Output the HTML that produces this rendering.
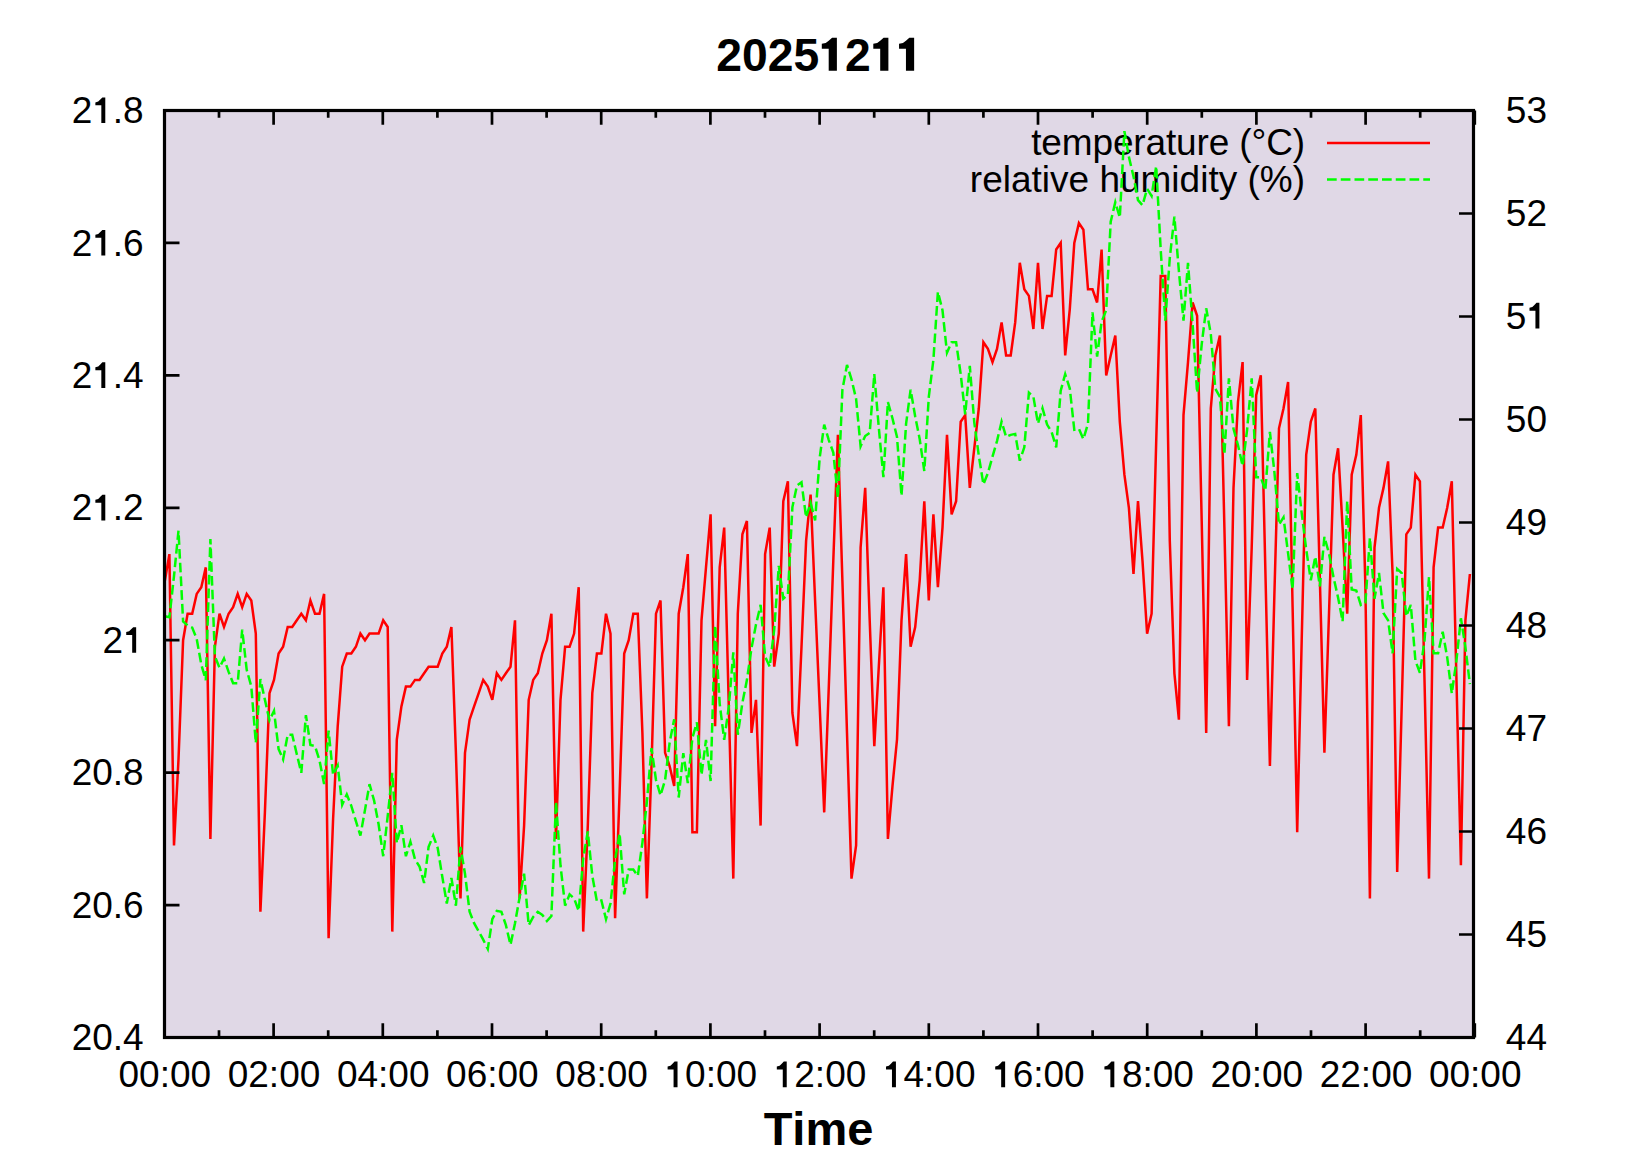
<!DOCTYPE html>
<html><head><meta charset="utf-8"><style>
html,body{margin:0;padding:0;background:#fff;}
svg{display:block;}
text{font-family:"Liberation Sans",sans-serif;font-size:37.0px;fill:#000;font-kerning:none;}
</style></head><body>
<svg width="1650" height="1155" viewBox="0 0 1650 1155">
<rect x="164.5" y="110.5" width="1309.0" height="927.0" fill="#e0d8e6"/>
<text x="1305" y="155" text-anchor="end" letter-spacing="-0.13">temperature (°C)</text>
<text x="1305" y="192" text-anchor="end">relative humidity (%)</text>
<path d="M1327 143H1430" stroke="#ff0000" stroke-width="2.5" fill="none"/>
<path d="M1327 179.6H1430" stroke="#00ff00" stroke-width="2.5" fill="none" stroke-dasharray="9.7 4.05"/>
<polyline points="164.9,580.6 169.4,554.1 174.0,845.5 178.5,759.4 183.1,640.2 187.6,613.7 192.2,613.7 196.7,593.9 201.3,587.2 205.8,567.4 210.4,838.9 214.9,646.8 219.5,613.7 224.0,627.0 228.6,613.7 233.1,607.1 237.7,593.9 242.2,607.1 246.7,593.9 251.3,600.5 255.8,633.6 260.4,911.7 264.9,812.4 269.5,693.2 274.0,679.9 278.6,653.5 283.1,646.8 287.7,627.0 292.2,627.0 296.8,620.3 301.3,613.7 305.9,620.3 310.4,600.5 315.0,613.7 319.5,613.7 324.1,593.9 328.6,938.2 333.1,819.0 337.7,726.3 342.2,666.7 346.8,653.5 351.3,653.5 355.9,646.8 360.4,633.6 365.0,640.2 369.5,633.6 374.1,633.6 378.6,633.6 383.2,620.3 387.7,627.0 392.3,931.6 396.8,739.5 401.4,706.4 405.9,686.6 410.4,686.6 415.0,679.9 419.5,679.9 424.1,673.3 428.6,666.7 433.2,666.7 437.7,666.7 442.3,653.5 446.8,646.8 451.4,627.0 455.9,752.8 460.5,898.4 465.0,752.8 469.6,719.7 474.1,706.4 478.7,693.2 483.2,679.9 487.8,686.6 492.3,699.8 496.8,673.3 501.4,679.9 505.9,673.3 510.5,666.7 515.0,620.3 519.6,898.4 524.1,825.6 528.7,699.8 533.2,679.9 537.8,673.3 542.3,653.5 546.9,640.2 551.4,613.7 556.0,838.9 560.5,699.8 565.1,646.8 569.6,646.8 574.1,633.6 578.7,587.2 583.2,931.6 587.8,825.6 592.3,693.2 596.9,653.5 601.4,653.5 606.0,613.7 610.5,633.6 615.1,918.3 619.6,792.5 624.2,653.5 628.7,640.2 633.3,613.7 637.8,613.7 642.4,732.9 646.9,898.4 651.5,766.0 656.0,613.7 660.5,600.5 665.1,752.8 669.6,766.0 674.2,785.9 678.7,613.7 683.3,587.2 687.8,554.1 692.4,832.2 696.9,832.2 701.5,620.3 706.0,567.4 710.6,514.4 715.1,726.3 719.7,567.4 724.2,527.6 728.8,706.4 733.3,878.6 737.8,613.7 742.4,534.3 746.9,521.0 751.5,732.9 756.0,699.8 760.6,825.6 765.1,554.1 769.7,527.6 774.2,666.7 778.8,633.6 783.3,501.2 787.9,481.3 792.4,713.0 797.0,746.2 801.5,646.8 806.1,540.9 810.6,494.5 815.1,600.5 819.7,706.4 824.2,812.4 828.8,686.6 833.3,560.8 837.9,434.9 842.4,580.6 847.0,732.9 851.5,878.6 856.1,845.5 860.6,547.5 865.2,487.9 869.7,620.3 874.3,746.2 878.8,666.7 883.4,587.2 887.9,838.9 892.5,785.9 897.0,739.5 901.5,620.3 906.1,554.1 910.6,646.8 915.2,627.0 919.7,580.6 924.3,501.2 928.8,600.5 933.4,514.4 937.9,587.2 942.5,527.6 947.0,434.9 951.6,514.4 956.1,501.2 960.7,421.7 965.2,415.1 969.8,487.9 974.3,448.2 978.8,408.5 983.4,342.2 987.9,348.9 992.5,362.1 997.0,348.9 1001.6,322.4 1006.1,355.5 1010.7,355.5 1015.2,322.4 1019.8,262.8 1024.3,289.3 1028.9,295.9 1033.4,329.0 1038.0,262.8 1042.5,329.0 1047.1,295.9 1051.6,295.9 1056.2,249.5 1060.7,242.9 1065.2,355.5 1069.8,309.1 1074.3,242.9 1078.9,223.1 1083.4,229.7 1088.0,289.3 1092.5,289.3 1097.1,302.5 1101.6,249.5 1106.2,375.4 1110.7,355.5 1115.3,335.6 1119.8,421.7 1124.4,474.7 1128.9,507.8 1133.5,574.0 1138.0,501.2 1142.5,560.8 1147.1,633.6 1151.6,613.7 1156.2,441.6 1160.7,276.0 1165.3,276.0 1169.8,540.9 1174.4,673.3 1178.9,719.7 1183.5,415.1 1188.0,362.1 1192.6,302.5 1197.1,315.8 1201.7,521.0 1206.2,732.9 1210.8,408.5 1215.3,355.5 1219.9,335.6 1224.4,527.6 1228.9,726.3 1233.5,487.9 1238.0,401.8 1242.6,362.1 1247.1,679.9 1251.7,547.5 1256.2,395.2 1260.8,375.4 1265.3,567.4 1269.9,766.0 1274.4,593.9 1279.0,428.3 1283.5,408.5 1288.1,382.0 1292.6,607.1 1297.2,832.2 1301.7,640.2 1306.2,454.8 1310.8,421.7 1315.3,408.5 1319.9,580.6 1324.4,752.8 1329.0,613.7 1333.5,474.7 1338.1,448.2 1342.6,527.6 1347.2,613.7 1351.7,474.7 1356.3,454.8 1360.8,415.1 1365.4,587.2 1369.9,898.4 1374.5,547.5 1379.0,507.8 1383.5,487.9 1388.1,461.4 1392.6,574.0 1397.2,872.0 1401.7,706.4 1406.3,534.3 1410.8,527.6 1415.4,474.7 1419.9,481.3 1424.5,679.9 1429.0,878.6 1433.6,567.4 1438.1,527.6 1442.7,527.6 1447.2,507.8 1451.8,481.3 1456.3,673.3 1460.9,865.3 1465.4,620.3 1469.9,574.0" fill="none" stroke="#ff0000" stroke-width="2.5" stroke-linejoin="miter" stroke-miterlimit="4"/>
<polyline points="164.9,616.2 169.4,617.3 174.0,576.1 178.5,530.7 183.1,621.4 187.6,625.5 192.2,627.6 196.7,638.9 201.3,664.6 205.8,680.1 210.4,539.0 214.9,656.4 219.5,667.7 224.0,658.5 228.6,671.9 233.1,683.2 237.7,683.2 242.2,629.6 246.7,669.8 251.3,686.3 255.8,742.9 260.4,679.1 264.9,699.7 269.5,720.3 274.0,711.0 278.6,749.1 283.1,759.4 287.7,734.7 292.2,734.7 296.8,754.2 301.3,772.8 305.9,715.1 310.4,745.0 315.0,746.0 319.5,760.4 324.1,784.1 328.6,730.6 333.1,774.9 337.7,765.6 342.2,804.7 346.8,794.4 351.3,805.8 355.9,821.2 360.4,835.6 365.0,809.9 369.5,784.1 374.1,800.6 378.6,824.3 383.2,856.2 387.7,816.1 392.3,772.8 396.8,842.8 401.4,825.3 405.9,856.2 410.4,841.8 415.0,859.3 419.5,866.5 424.1,883.0 428.6,846.9 433.2,835.6 437.7,848.0 442.3,876.8 446.8,903.6 451.4,877.9 455.9,905.7 460.5,846.9 465.0,873.7 469.6,911.8 474.1,923.2 478.7,931.4 483.2,939.6 487.8,948.9 492.3,919.1 496.8,910.8 501.4,911.8 505.9,925.2 510.5,944.8 515.0,923.2 519.6,897.4 524.1,873.7 528.7,925.2 533.2,917.0 537.8,911.8 542.3,914.9 546.9,921.1 551.4,916.0 556.0,801.6 560.5,865.5 565.1,905.7 569.6,894.3 574.1,898.4 578.7,910.8 583.2,858.3 587.8,831.5 592.3,875.8 596.9,901.5 601.4,900.5 606.0,919.1 610.5,903.6 615.1,859.3 619.6,833.6 624.2,894.3 628.7,869.6 633.3,869.6 637.8,875.8 642.4,842.8 646.9,801.6 651.5,748.1 656.0,780.0 660.5,795.4 665.1,780.0 669.6,742.9 674.2,719.2 678.7,797.5 683.3,753.2 687.8,783.1 692.4,737.8 696.9,722.3 701.5,774.9 706.0,739.8 710.6,781.0 715.1,625.5 719.7,703.8 724.2,739.8 728.8,706.9 733.3,652.3 737.8,734.7 742.4,702.8 746.9,680.1 751.5,648.2 756.0,624.5 760.6,604.9 765.1,656.4 769.7,666.7 774.2,629.6 778.8,565.8 783.3,598.7 787.9,594.6 792.4,507.1 797.0,485.4 801.5,482.3 806.1,517.4 810.6,502.9 815.1,520.4 819.7,457.6 824.2,424.6 828.8,440.1 833.3,452.5 837.9,497.8 842.4,389.6 847.0,364.9 851.5,379.3 856.1,398.9 860.6,446.3 865.2,436.0 869.7,432.9 874.3,374.2 878.8,427.7 883.4,477.2 887.9,402.0 892.5,418.5 897.0,437.0 901.5,495.7 906.1,423.6 910.6,389.6 915.2,416.4 919.7,439.1 924.3,471.0 928.8,396.8 933.4,359.8 937.9,291.8 942.5,310.3 947.0,352.6 951.6,342.2 956.1,342.2 960.7,374.2 965.2,414.4 969.8,365.9 974.3,422.6 978.8,455.6 983.4,484.4 987.9,473.1 992.5,456.6 997.0,441.1 1001.6,421.6 1006.1,437.0 1010.7,434.9 1015.2,433.9 1019.8,460.7 1024.3,447.3 1028.9,392.7 1033.4,396.8 1038.0,423.6 1042.5,408.2 1047.1,424.6 1051.6,431.9 1056.2,447.3 1060.7,390.7 1065.2,374.2 1069.8,388.6 1074.3,429.8 1078.9,428.8 1083.4,439.1 1088.0,423.6 1092.5,312.4 1097.1,356.7 1101.6,321.6 1106.2,310.3 1110.7,221.7 1115.3,202.2 1119.8,217.6 1124.4,131.1 1128.9,156.9 1133.5,176.4 1138.0,200.1 1142.5,205.3 1147.1,188.8 1151.6,196.0 1156.2,166.1 1160.7,249.6 1165.3,320.6 1169.8,257.8 1174.4,216.6 1178.9,271.2 1183.5,320.6 1188.0,262.9 1192.6,323.7 1197.1,392.7 1201.7,344.3 1206.2,308.3 1210.8,334.0 1215.3,388.6 1219.9,396.8 1224.4,454.5 1228.9,378.3 1233.5,428.8 1238.0,445.2 1242.6,465.9 1247.1,429.8 1251.7,378.3 1256.2,477.2 1260.8,477.2 1265.3,490.6 1269.9,431.9 1274.4,472.0 1279.0,524.6 1283.5,517.4 1288.1,553.4 1292.6,589.4 1297.2,473.1 1301.7,513.2 1306.2,549.3 1310.8,580.2 1315.3,556.5 1319.9,586.4 1324.4,536.9 1329.0,553.4 1333.5,577.1 1338.1,597.7 1342.6,621.4 1347.2,500.9 1351.7,589.4 1356.3,590.5 1360.8,604.9 1365.4,602.8 1369.9,537.9 1374.5,598.7 1379.0,573.0 1383.5,613.1 1388.1,620.4 1392.6,653.3 1397.2,568.9 1401.7,573.0 1406.3,616.2 1410.8,604.9 1415.4,660.5 1419.9,672.9 1424.5,640.9 1429.0,577.1 1433.6,653.3 1438.1,653.3 1442.7,631.7 1447.2,657.4 1451.8,693.5 1456.3,661.6 1460.9,618.3 1465.4,647.1 1469.9,684.2" fill="none" stroke="#00ff00" stroke-width="2.5" stroke-linejoin="miter" stroke-miterlimit="4" stroke-dasharray="9.7 4.05"/>
<path d="M164.40 1037.5v-14.2M164.40 110.5v14.2M219.00 1037.5v-7.2M219.00 110.5v7.2M273.60 1037.5v-14.2M273.60 110.5v14.2M328.20 1037.5v-7.2M328.20 110.5v7.2M382.80 1037.5v-14.2M382.80 110.5v14.2M437.40 1037.5v-7.2M437.40 110.5v7.2M492.00 1037.5v-14.2M492.00 110.5v14.2M546.60 1037.5v-7.2M546.60 110.5v7.2M601.20 1037.5v-14.2M601.20 110.5v14.2M655.80 1037.5v-7.2M655.80 110.5v7.2M710.40 1037.5v-14.2M710.40 110.5v14.2M765.00 1037.5v-7.2M765.00 110.5v7.2M819.60 1037.5v-14.2M819.60 110.5v14.2M874.20 1037.5v-7.2M874.20 110.5v7.2M928.80 1037.5v-14.2M928.80 110.5v14.2M983.40 1037.5v-7.2M983.40 110.5v7.2M1038.00 1037.5v-14.2M1038.00 110.5v14.2M1092.60 1037.5v-7.2M1092.60 110.5v7.2M1147.20 1037.5v-14.2M1147.20 110.5v14.2M1201.80 1037.5v-7.2M1201.80 110.5v7.2M1256.40 1037.5v-14.2M1256.40 110.5v14.2M1311.00 1037.5v-7.2M1311.00 110.5v7.2M1365.60 1037.5v-14.2M1365.60 110.5v14.2M1420.20 1037.5v-7.2M1420.20 110.5v7.2M1474.80 1037.5v-14.2M1474.80 110.5v14.2M164.5 1037.50h15M164.5 905.07h15M164.5 772.64h15M164.5 640.21h15M164.5 507.79h15M164.5 375.36h15M164.5 242.93h15M164.5 110.50h15M1473.5 1037.50h-14.5M1473.5 934.50h-14.5M1473.5 831.50h-14.5M1473.5 728.50h-14.5M1473.5 625.50h-14.5M1473.5 522.50h-14.5M1473.5 419.50h-14.5M1473.5 316.50h-14.5M1473.5 213.50h-14.5M1473.5 110.50h-14.5" stroke="#000" stroke-width="2.7" fill="none" stroke-linecap="butt"/>
<rect x="164.5" y="110.5" width="1309.0" height="927.0" fill="none" stroke="#000" stroke-width="3.2"/>
<text x="71.69 92.26 112.84 123.12" y="1050.10" style="font-size:37.0px">20.4</text><text x="71.69 92.26 112.84 123.12" y="917.67" style="font-size:37.0px">20.6</text><text x="71.69 92.26 112.84 123.12" y="785.24" style="font-size:37.0px">20.8</text><text x="102.54" y="652.81" style="font-size:37.0px">2</text><path d="M132.19 652.81V635.05H126.23L126.23 632.09L129.08 631.32L131.15 629.25L133.22 627.17H136.15V652.81Z"/><text x="71.69 112.84 123.12" y="520.39" style="font-size:37.0px">2.2</text><path d="M101.33 520.39V502.63H95.37L95.37 499.67L98.22 498.89L100.29 496.82L102.37 494.74H105.29V520.39Z"/><text x="71.69 112.84 123.12" y="387.96" style="font-size:37.0px">2.4</text><path d="M101.33 387.96V370.20H95.37L95.37 367.24L98.22 366.46L100.29 364.39L102.37 362.32H105.29V387.96Z"/><text x="71.69 112.84 123.12" y="255.53" style="font-size:37.0px">2.6</text><path d="M101.33 255.53V237.77H95.37L95.37 234.81L98.22 234.03L100.29 231.96L102.37 229.89H105.29V255.53Z"/><text x="71.69 112.84 123.12" y="123.10" style="font-size:37.0px">2.8</text><path d="M101.33 123.10V105.34H95.37L95.37 102.38L98.22 101.60L100.29 99.53L102.37 97.46H105.29V123.10Z"/><text x="1505.80 1526.38" y="1049.50" style="font-size:37.0px">44</text><text x="1505.80 1526.38" y="946.50" style="font-size:37.0px">45</text><text x="1505.80 1526.38" y="843.50" style="font-size:37.0px">46</text><text x="1505.80 1526.38" y="740.50" style="font-size:37.0px">47</text><text x="1505.80 1526.38" y="637.50" style="font-size:37.0px">48</text><text x="1505.80 1526.38" y="534.50" style="font-size:37.0px">49</text><text x="1505.80 1526.38" y="431.50" style="font-size:37.0px">50</text><text x="1505.80" y="328.50" style="font-size:37.0px">5</text><path d="M1535.44 328.50V310.74H1529.49L1529.49 307.78L1532.33 307.00L1534.41 304.93L1536.48 302.86H1539.40V328.50Z"/><text x="1505.80 1526.38" y="225.50" style="font-size:37.0px">52</text><text x="1505.80 1526.38" y="122.50" style="font-size:37.0px">53</text><text x="118.50 139.08 159.66 169.94 190.52" y="1087.20" style="font-size:37.0px">00:00</text><text x="227.70 248.28 268.86 279.14 299.72" y="1087.20" style="font-size:37.0px">02:00</text><text x="336.90 357.48 378.06 388.34 408.92" y="1087.20" style="font-size:37.0px">04:00</text><text x="446.10 466.68 487.26 497.54 518.12" y="1087.20" style="font-size:37.0px">06:00</text><text x="555.30 575.88 596.46 606.74 627.32" y="1087.20" style="font-size:37.0px">08:00</text><text x="685.08 705.66 715.94 736.52" y="1087.20" style="font-size:37.0px">0:00</text><path d="M673.57 1087.20V1069.44H667.61L667.61 1066.48L670.46 1065.70L672.53 1063.63L674.61 1061.56H677.53V1087.20Z"/><text x="794.28 814.86 825.14 845.72" y="1087.20" style="font-size:37.0px">2:00</text><path d="M782.77 1087.20V1069.44H776.81L776.81 1066.48L779.66 1065.70L781.73 1063.63L783.81 1061.56H786.73V1087.20Z"/><text x="903.48 924.06 934.34 954.92" y="1087.20" style="font-size:37.0px">4:00</text><path d="M891.97 1087.20V1069.44H886.01L886.01 1066.48L888.86 1065.70L890.93 1063.63L893.01 1061.56H895.93V1087.20Z"/><text x="1012.68 1033.26 1043.54 1064.12" y="1087.20" style="font-size:37.0px">6:00</text><path d="M1001.17 1087.20V1069.44H995.21L995.21 1066.48L998.06 1065.70L1000.13 1063.63L1002.21 1061.56H1005.13V1087.20Z"/><text x="1121.88 1142.46 1152.74 1173.32" y="1087.20" style="font-size:37.0px">8:00</text><path d="M1110.37 1087.20V1069.44H1104.41L1104.41 1066.48L1107.26 1065.70L1109.33 1063.63L1111.41 1061.56H1114.33V1087.20Z"/><text x="1210.50 1231.08 1251.66 1261.94 1282.52" y="1087.20" style="font-size:37.0px">20:00</text><text x="1319.70 1340.28 1360.86 1371.14 1391.72" y="1087.20" style="font-size:37.0px">22:00</text><text x="1428.90 1449.48 1470.06 1480.34 1500.92" y="1087.20" style="font-size:37.0px">00:00</text><text x="716.30 742.05 767.80 793.55 845.05" y="70.80" style="font-size:46.3px" font-weight="bold">20252</text><path d="M828.70 70.80V48.71H821.80L821.80 43.81L825.69 42.88L828.70 40.80L832.08 37.79H836.89V70.80ZM880.20 70.80V48.71H873.30L873.30 43.81L877.19 42.88L880.20 40.80L883.58 37.79H888.39V70.80ZM905.95 70.80V48.71H899.05L899.05 43.81L902.94 42.88L905.95 40.80L909.33 37.79H914.14V70.80Z"/>
<text x="818.5" y="1145" text-anchor="middle" style="font-size:47px" font-weight="bold">Time</text>
</svg>
</body></html>
